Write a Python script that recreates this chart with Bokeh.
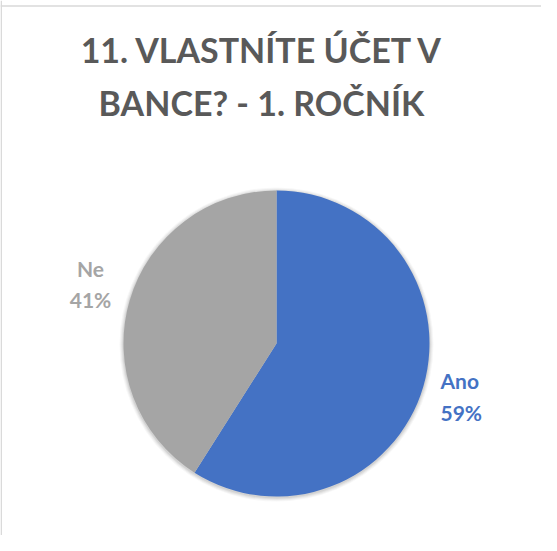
from bokeh.plotting import figure
from bokeh.models import Range1d, Span
from bokeh.core.properties import value
from bokeh.embed import file_html
from bokeh.resources import INLINE
import math

# data
categories = ["Ano", "Ne"]
percent = [59, 41]
colors = ["#4472C4", "#A5A5A5"]
title_lines = ["11. VLASTNÍTE ÚČET V", "BANCE? - 1. ROČNÍK"]

W, H = 541, 535
p = figure(width=W, height=H, output_backend="svg", toolbar_location=None,
           x_range=Range1d(8, 8 + W), y_range=Range1d(551 - 8 - H, 551 - 8),
           min_border=0, outline_line_color=None)
p.axis.visible = False
p.grid.visible = False
p.background_fill_color = "white"

def Y(yimg):
    return 551 - yimg

# border (top and left)
p.add_layout(Span(location=Y(13.5), dimension="width", line_color="#D9D9D9", line_width=1.5))
p.add_layout(Span(location=8.7, dimension="height", line_color="#D9D9D9", line_width=1.5))

cx, cy, r = 284, Y(351), 153

# soft shadow
for i, a in enumerate([0.03, 0.04, 0.05, 0.06]):
    p.circle(x=[cx], y=[cy - 1], radius=r + 4 - i, fill_color="black", fill_alpha=a, line_color=None)

total = sum(percent)
start = math.pi / 2
starts, ends = [], []
for v in percent:
    a = 2 * math.pi * v / total
    starts.append(start - a)
    ends.append(start)
    start -= a

p.wedge(x=[cx] * len(percent), y=[cy] * len(percent), radius=r,
        start_angle=starts, end_angle=ends, fill_color=colors, line_color=None)

# title
p.text(x=[270, 269], y=[Y(57), Y(109.5)], text=title_lines, text_align="center",
       text_baseline="middle", text_font=value("Lato"), text_font_style="bold",
       text_font_size="34px", text_color="#595959")

# data labels
lab_x = [448, 98]
lab_y1 = [388, 276]
lab_y2 = [419.5, 307]
aligns = ["left", "center"]
for i, c in enumerate(categories):
    xx = lab_x[i]
    p.text(x=[xx], y=[Y(lab_y1[i])], text=[c], text_align=aligns[i], text_baseline="middle",
           text_font=value("Lato"), text_font_style="bold", text_font_size="21px", text_color=colors[i])
    p.text(x=[xx], y=[Y(lab_y2[i])], text=[f"{percent[i]}%"], text_align=aligns[i], text_baseline="middle",
           text_font=value("Lato"), text_font_style="bold", text_font_size="21px", text_color=colors[i])

open("out.html", "w").write(file_html(p, INLINE))
